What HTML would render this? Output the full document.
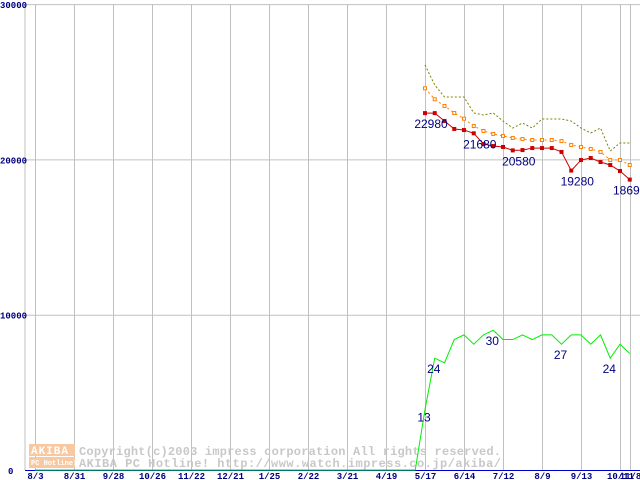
<!DOCTYPE html>
<html><head><meta charset="utf-8"><style>
body{margin:0;background:#fff;}
svg{display:block;font-family:"Liberation Mono",monospace;}
</style></head><body>
<svg id="chart" width="640" height="480" viewBox="0 0 640 480" xmlns="http://www.w3.org/2000/svg">
<g id="grid"></g>
<g id="wm">
<rect x="29" y="444" width="46" height="12" fill="#f8c8a0"/>
<text x="31" y="454" font-size="11" font-weight="bold" fill="#fff" letter-spacing="1">AKIBA</text>
<rect x="29" y="457" width="46" height="11" fill="#f8c8a0"/>
<text x="31" y="465" font-size="7" font-weight="bold" fill="#fff">PC Hotline!</text>
<text x="79" y="455" font-size="12" font-weight="bold" fill="#c8c8c8" textLength="422" lengthAdjust="spacing">Copyright(c)2003 impress corporation All rights reserved.</text>
<text x="79" y="467" font-size="12" font-weight="bold" fill="#c8c8c8" textLength="422" lengthAdjust="spacing">AKIBA PC Hotline!  http://www.watch.impress.co.jp/akiba/</text>
</g>
<g id="series"></g>
</svg>
<script>
const xLabels=["8/3","8/31","9/28","10/26","11/22","12/21","1/25","2/22","3/21","4/19","5/17","6/14","7/12","8/9","9/13","10/11","11/8"];
const xLabelWeeks=[0,4,8,12,16,20,24,28,32,36,40,44,48,52,56,60,61];
const yTicks=[0,10000,20000,30000];
const startWeek=40;
const lowPrice=[22980,22980,22470,21960,21890,21680,20990,20860,20800,20580,20600,20730,20730,20730,20480,19280,19960,20090,19830,19640,19250,18699];
const avgPrice=[24580,23870,23440,22990,22620,22150,21830,21640,21510,21380,21310,21250,21250,21250,21180,20930,20800,20670,20480,19960,19960,19640];
const highPrice=[26080,24790,24020,24020,24020,22990,22860,22990,22470,22020,22340,22020,22600,22600,22600,22470,22020,21700,22020,20540,21060,21060];
const shopCount=[0,0,0,0,0,0,0,0,0,0,0,0,0,0,0,0,0,0,0,0,0,0,0,0,0,0,0,0,0,0,0,0,0,0,0,0,0,0,0,0,13,24,23,28,29,27,29,30,28,28,29,28,29,29,27,29,29,27,29,24,27,25];
const labelIdx={low:[[0,22980],[5,21680],[9,20580],[15,19280],[21,18699]],shop:[[40,13],[41,24],[47,30],[54,27],[59,24]]};
const NS="http://www.w3.org/2000/svg";
function X(w){return 35+w*9.75;}
function Y(v){return 470-v*0.01553;}
function YS(n){return Y(n*300);}
function mk(tag,attrs,parent){const e=document.createElementNS(NS,tag);for(const k in attrs)e.setAttribute(k,attrs[k]);parent.appendChild(e);return e;}
const grid=document.getElementById('grid'),S=document.getElementById('series');
mk('line',{x1:25,y1:4,x2:25,y2:470,stroke:'#c0c0c0'},grid);
yTicks.forEach(v=>{
 const l=mk('line',{x1:25,x2:640,y1:Y(v)+0.5,y2:Y(v)+0.5,stroke:v?'#c0c0c0':'#0000cc'},grid);
 
 
 const t=mk('text',{x:v?0:8,y:Y(v)+4,'font-size':9,'font-weight':'bold',fill:'#000080'},grid);
 t.textContent=String(v);
 
 
});
xLabels.forEach((s,i)=>{
 const x=Math.round(X(xLabelWeeks[i]))+0.5;
 const l=mk('line',{x1:x,x2:x,y1:4,y2:470,stroke:'#c0c0c0'},grid);
 
 
 const t=mk('text',{x:x,y:479,'font-size':9,'font-weight':'bold',fill:'#000080','text-anchor':'middle'},grid);
 t.textContent=s;
 
 
});
function pts(arr,off,f){return arr.map((v,i)=>X(off+i)+','+f(v)).join(' ');}
const hi=mk('polyline',{points:pts(highPrice,startWeek,Y),fill:'none',stroke:'#808000','stroke-dasharray':'2,2'},S);


const av=mk('polyline',{points:pts(avgPrice,startWeek,Y),fill:'none',stroke:'#ff8000','stroke-dasharray':'2,3'},S);


avgPrice.forEach((v,i)=>{const r=mk('rect',{x:X(startWeek+i)-1.5,y:Y(v)-1.5,width:3,height:3,fill:'#fff',stroke:'#ff8000'},S);
 
 });
const lo=mk('polyline',{points:pts(lowPrice,startWeek,Y),fill:'none',stroke:'#cc0000'},S);


lowPrice.forEach((v,i)=>{const r=mk('rect',{x:X(startWeek+i)-2,y:Y(v)-2,width:4,height:4,fill:'#cc0000'},S);
 
 });
const sh=mk('polyline',{points:pts(shopCount,0,YS),fill:'none',stroke:'#00ee00'},S);


labelIdx.low.forEach(([i,v])=>{
 const last=i==lowPrice.length-1;
 const t=mk('text',{x:last?613:X(startWeek+i)+6,y:Y(lowPrice[i])+15,'font-size':12,fill:'#000080','text-anchor':last?'start':'middle','font-family':'Liberation Sans, sans-serif'},S);
 t.textContent=String(v);
 
 });
labelIdx.shop.forEach(([i,v])=>{const t=mk('text',{x:X(i)-1,y:YS(shopCount[i])+(i==40?12:15),'font-size':12,fill:'#000080','text-anchor':'middle','font-family':'Liberation Sans, sans-serif'},S);
 t.textContent=String(v);
 
 });
</script>
</body></html>
